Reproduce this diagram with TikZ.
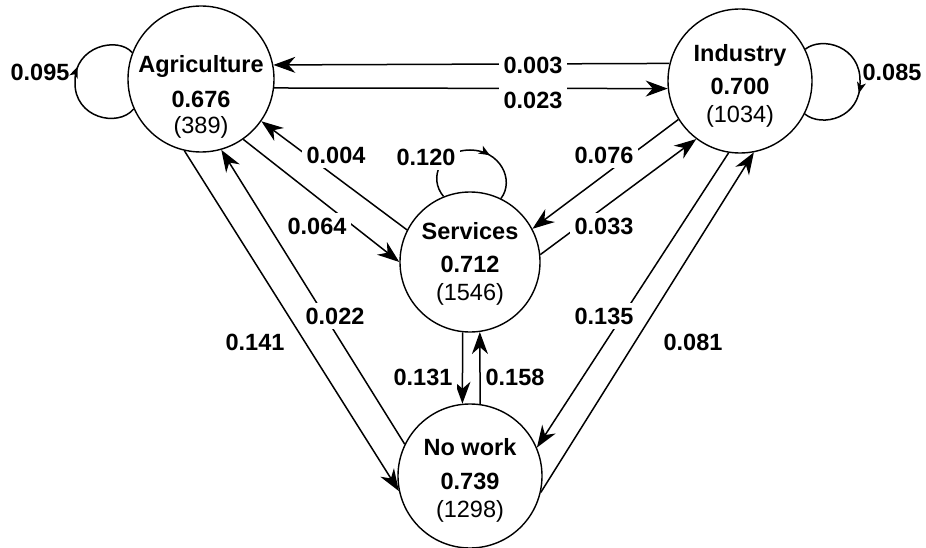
\documentclass[tikz,border=0pt]{standalone}
\usepackage{fontspec}
\setmainfont{Liberation Sans}
\usetikzlibrary{arrows.meta,decorations.markings}
\begin{document}
\begin{tikzpicture}[x=1pt,y=-1pt,
  state/.style={circle,draw,line width=1.4pt,inner sep=0pt,minimum size=#1},
  conn/.style={line width=1.5pt,-{Stealth[length=22pt,width=16pt,inset=7pt]}},
  loopline/.style={line width=1.5pt,postaction={decorate,decoration={markings,
     mark=at position #1 with {\arrow{Stealth[length=11pt,width=9pt,inset=3pt]}}}}},
  lab/.style={fill=white,inner xsep=5pt,inner ysep=5pt,text height=16.5pt,text depth=0pt,
     font=\fontsize{23.5}{27}\selectfont\bfseries},
  plainlab/.style={lab,fill=none},
  ttl/.style={anchor=base,inner sep=0pt,font=\fontsize{23.5}{27}\selectfont\bfseries},
  cnt/.style={anchor=base,inner sep=0pt,font=\fontsize{23.5}{27}\selectfont}
]
\useasboundingbox (0,0) rectangle (926,548);

% states
\node[state=146pt] (agri) at (201,79) {};
\node[state=144pt] (ind) at (740,81) {};
\node[state=140pt] (serv) at (470,262) {};
\node[state=144pt] (nw) at (470,476) {};

% texts inside states
\node[ttl] (agri-t) at (201,73) {Agriculture};
\node[ttl] (agri-v) at (201,108) {0.676};
\node[cnt] (agri-c) at (201,134) {(389)};
\node[ttl] (ind-t) at (740,62) {Industry};
\node[ttl] (ind-v) at (740,95) {0.700};
\node[cnt] (ind-c) at (740,123) {(1034)};
\node[ttl] (serv-t) at (470,239) {Services};
\node[ttl] (serv-v) at (470,272) {0.712};
\node[cnt] (serv-c) at (470,300) {(1546)};
\node[ttl] (nw-t) at (470,455) {No work};
\node[ttl] (nw-v) at (470,489) {0.739};
\node[cnt] (nw-c) at (470,517) {(1298)};

% transitions
\draw[conn] (ind.166.7) -- (agri.11.8);
\draw[conn] (agri.-7.8) -- (ind.186.3);
\draw[conn] (serv.153.1) -- (agri.-35.7);
\draw[conn] (agri.-55.2) -- (serv.180);
\draw[conn] (ind.-148.5) -- (serv.28.2);
\draw[conn] (serv.6.3) -- (ind.-127.5);
\draw[conn] (agri.-103.7) -- (nw.192.5);
\draw[conn] (nw.154.5) -- (agri.-74.6);
\draw[conn] (ind.-99.7) -- (nw.23.7);
\draw[conn] (nw.-13.3) -- (ind.-79.3);
\draw[conn] (serv.-96.5) -- (nw.96.3);
\draw[conn] (nw.82.9) -- (serv.-82.7);

% self loops
\draw[loopline=0.6] (agri.204.5) .. controls (118,128) and (74,118) .. (75,82)
   .. controls (74,46) and (118,36) .. (agri.159.1);
\draw[loopline=0.57] (ind.26.9) .. controls (822,36) and (861,46) .. (860,82)
   .. controls (861,118) and (822,128) .. (ind.-27.6);
\draw[loopline=0.64] (serv.112.7) .. controls (428,178) and (440,150) .. (470,150)
   .. controls (500,150) and (515,180) .. (serv.64.5);

% labels
\node[lab] (l003) at (533,65) {0.003};
\node[lab] (l023) at (533,100) {0.023};
\node[lab] (l004) at (336,155) {0.004};
\node[lab] (l064) at (317,226) {0.064};
\node[lab] (l076) at (604,155) {0.076};
\node[lab] (l033) at (604,226) {0.033};
\node[lab] (l141) at (255,342) {0.141};
\node[lab] (l022) at (335,316) {0.022};
\node[lab] (l135) at (604,316) {0.135};
\node[lab] (l081) at (693,342) {0.081};
\node[lab] (l131) at (423,377) {0.131};
\node[lab] (l158) at (515,377) {0.158};
\node[lab] (l120) at (426,157) {0.120};
\node[plainlab] (l095) at (40,72) {0.095};
\node[plainlab] (l085) at (892,72) {0.085};
\end{tikzpicture}
\end{document}
